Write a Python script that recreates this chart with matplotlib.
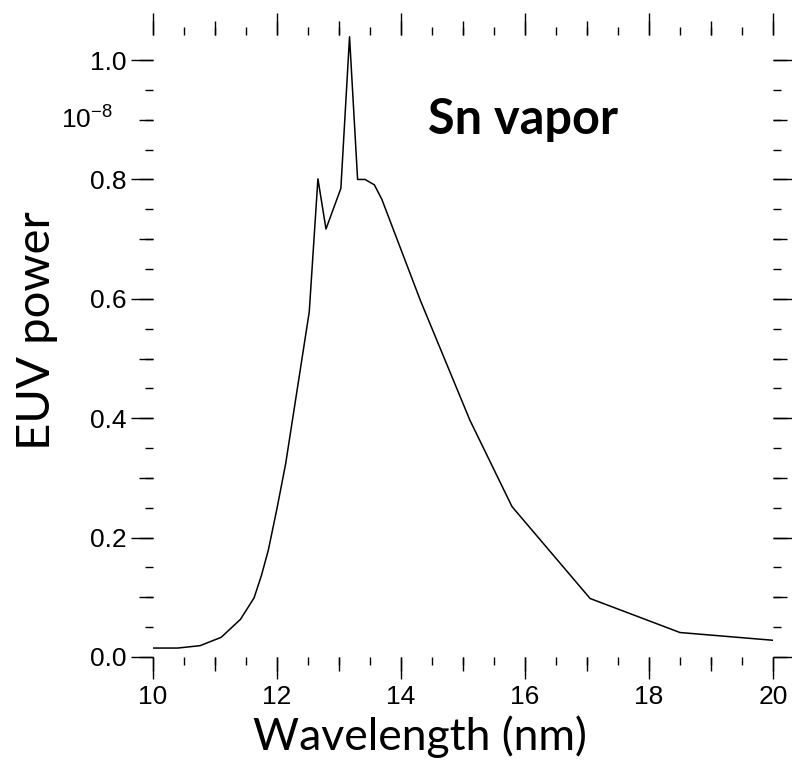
import matplotlib
matplotlib.use('Agg')
import matplotlib.pyplot as plt
from matplotlib.ticker import MultipleLocator, NullLocator

# EUV emission spectrum of tin vapour
wavelength = [10.0, 10.4, 10.76, 11.1, 11.41, 11.63, 11.75, 11.86, 12.0, 12.14,
              12.52, 12.66, 12.79, 13.03, 13.17, 13.30, 13.42, 13.57, 13.69,
              14.31, 15.11, 15.79, 17.05, 18.5, 20.0]
power = [0.015, 0.015, 0.019, 0.033, 0.063, 0.099, 0.137, 0.179, 0.249, 0.324,
         0.578, 0.801, 0.717, 0.785, 1.039, 0.800, 0.800, 0.791, 0.767,
         0.598, 0.397, 0.252, 0.098, 0.041, 0.028]

xlim = (10, 20)
ylim = (0, 1.042)

plt.rcParams['font.family'] = ['Liberation Sans', 'DejaVu Sans']
plt.rcParams['mathtext.fontset'] = 'custom'
plt.rcParams['mathtext.rm'] = 'Liberation Sans'
plt.rcParams['mathtext.it'] = 'Liberation Sans:italic'

fig = plt.figure(figsize=(7.92, 7.60), dpi=100)
rect = [153 / 792, 103 / 760, 620 / 792, 622 / 760]
ax = fig.add_axes(rect)
ax.plot(wavelength, power, color='black', lw=1.1)
ax.set_xlim(*xlim)
ax.set_ylim(*ylim)

for s in ax.spines.values():
    s.set_visible(False)

ax.xaxis.set_major_locator(MultipleLocator(2))
ax.xaxis.set_minor_locator(MultipleLocator(0.5))
ax.yaxis.set_major_locator(MultipleLocator(0.2))
ax.yaxis.set_minor_locator(MultipleLocator(0.05))
ax.yaxis.set_major_formatter(lambda v, p: '%.1f' % v)
ax.tick_params(which='both', direction='out', top=True, right=True,
               width=1.0, labelsize=19)
ax.tick_params(which='major', length=16)
ax.tick_params(which='minor', length=6)
ax.tick_params(axis='x', which='major', pad=4)
ax.tick_params(axis='y', which='major', pad=3)

# middle-length ticks at every unit / every 0.1
ax2 = fig.add_axes(rect, frameon=False)
ax2.set_xlim(*xlim)
ax2.set_ylim(*ylim)
ax2.xaxis.set_major_locator(MultipleLocator(1))
ax2.yaxis.set_major_locator(MultipleLocator(0.1))
ax2.xaxis.set_minor_locator(NullLocator())
ax2.yaxis.set_minor_locator(NullLocator())
ax2.tick_params(which='major', direction='out', top=True, right=True,
                length=10, width=1.0, labelbottom=False, labelleft=False)
ax2.patch.set_visible(False)

ax.text(-0.065, 0.9 / ylim[1], r'$10^{-8}$', transform=ax.transAxes,
        ha='right', va='center', fontsize=19)

ax.text(0.4435, 0.841, 'Sn vapor', transform=ax.transAxes, ha='left',
        va='baseline', fontsize=35, fontweight='bold', family='Lato')

fig.text(420 / 792, 10 / 760, 'Wavelength (nm)', ha='center', va='baseline',
         fontsize=32, family='Lato')
fig.text(37 / 792, 429 / 760, 'EUV power', ha='center', va='center',
         rotation=90, fontsize=34, family='Lato')

fig.savefig('out.png', dpi=100)
